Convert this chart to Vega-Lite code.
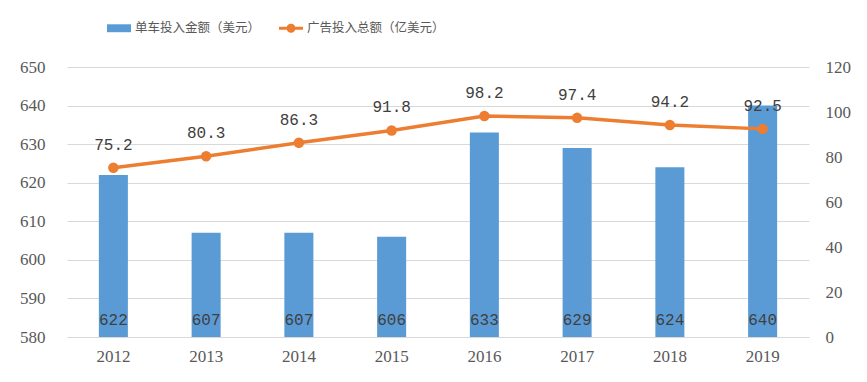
{
  "$schema": "https://vega.github.io/schema/vega-lite/v6.json",
  "width": 742,
  "height": 270,
  "autosize": "none",
  "padding": {"left": 67, "top": 67, "right": 58, "bottom": 45},
  "background": "white",
  "data": {
    "values": [
      {"year": "2012", "bike": 622, "ad": 75.2},
      {"year": "2013", "bike": 607, "ad": 80.3},
      {"year": "2014", "bike": 607, "ad": 86.3},
      {"year": "2015", "bike": 606, "ad": 91.8},
      {"year": "2016", "bike": 633, "ad": 98.2},
      {"year": "2017", "bike": 629, "ad": 97.4},
      {"year": "2018", "bike": 624, "ad": 94.2},
      {"year": "2019", "bike": 640, "ad": 92.5}
    ]
  },
  "config": {
    "view": {"stroke": null}
  },
  "encoding": {
    "x": {
      "field": "year",
      "type": "ordinal",
      "scale": {"paddingInner": 0.687, "paddingOuter": 0.3435},
      "axis": {
        "title": null,
        "labelAngle": 0,
        "ticks": false,
        "domainColor": "#D9D9D9",
        "domainWidth": 1,
        "labelFont": "Liberation Serif",
        "labelFontSize": 17,
        "labelColor": "#595959",
        "labelPadding": 11
      }
    }
  },
  "layer": [
    {
      "encoding": {
        "y": {
          "field": "bike",
          "type": "quantitative",
          "scale": {"domain": [580, 650], "zero": false, "nice": false},
          "axis": {
            "title": null,
            "values": [580, 590, 600, 610, 620, 630, 640, 650],
            "grid": true,
            "gridColor": "#D9D9D9",
            "domain": false,
            "ticks": false,
            "labelFont": "Liberation Serif",
            "labelFontSize": 17,
            "labelColor": "#595959",
            "labelPadding": 22
          }
        }
      },
      "layer": [
        {
          "mark": {"type": "bar"},
          "encoding": {
            "y2": {"datum": 580},
            "color": {
              "datum": "单车投入金额（美元）",
              "scale": {
                "domain": ["单车投入金额（美元）", "广告投入总额（亿美元）"],
                "range": ["#5B9BD5", "#ED7D31"]
              },
              "legend": {
                "orient": "none",
                "legendX": 40,
                "legendY": -51,
                "direction": "horizontal",
                "title": null,
                "padding": 0,
                "labelFont": "Noto Sans CJK SC",
                "labelFontSize": 12.5,
                "labelColor": "#595959",
                "labelOffset": 4,
                "columnPadding": 18,
                "symbolSize": 576,
                "encode": {
                  "symbols": {
                    "update": {
                      "shape": {"signal": "datum.value === '单车投入金额（美元）' ? 'M-1,-0.33L1,-0.33L1,0.33L-1,0.33Z' : 'M-1,-0.125L1,-0.125L1,0.125L-1,0.125Z M0.375,0A0.375,0.375 0 1 1 -0.375,0A0.375,0.375 0 1 1 0.375,0Z'"},
                      "fill": {"scale": "color", "field": "value"},
                      "strokeWidth": {"value": 0},
                      "opacity": {"value": 1}
                    }
                  }
                }
              }
            }
          }
        },
        {
          "mark": {
            "type": "text",
            "font": "Liberation Mono",
            "fontSize": 16,
            "color": "#404040",
            "baseline": "middle",
            "dy": -17
          },
          "encoding": {
            "y": {"datum": 580},
            "text": {"field": "bike", "type": "quantitative"}
          }
        }
      ]
    },
    {
      "encoding": {
        "y": {
          "field": "ad",
          "type": "quantitative",
          "scale": {"domain": [0, 120], "nice": false},
          "axis": {
            "title": null,
            "orient": "right",
            "values": [0, 20, 40, 60, 80, 100, 120],
            "grid": false,
            "domain": false,
            "ticks": false,
            "labelFont": "Liberation Serif",
            "labelFontSize": 17,
            "labelColor": "#595959",
            "labelPadding": 16
          }
        }
      },
      "layer": [
        {
          "mark": {"type": "line", "strokeWidth": 3.5},
          "encoding": {"color": {"datum": "广告投入总额（亿美元）"}}
        },
        {
          "mark": {"type": "point", "filled": true, "size": 110, "opacity": 1},
          "encoding": {"color": {"datum": "广告投入总额（亿美元）"}}
        },
        {
          "mark": {
            "type": "text",
            "font": "Liberation Mono",
            "fontSize": 16,
            "color": "#404040",
            "baseline": "middle",
            "dy": -23
          },
          "encoding": {
            "text": {"field": "ad", "type": "quantitative", "format": ".1f"}
          }
        }
      ]
    }
  ],
  "resolve": {"scale": {"y": "independent"}}
}
